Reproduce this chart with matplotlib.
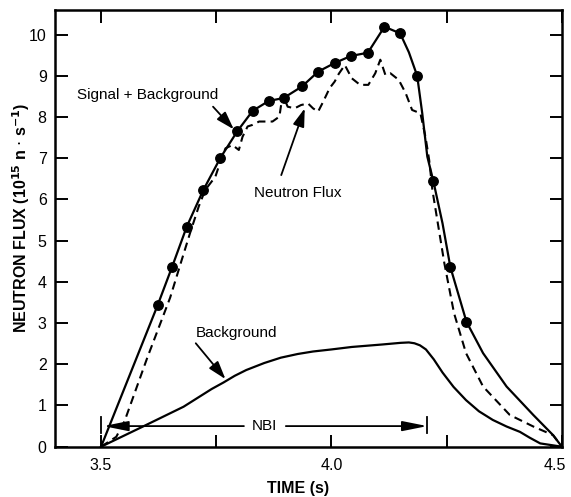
import matplotlib
matplotlib.use("Agg")
import matplotlib.pyplot as plt
import matplotlib.transforms as mtransforms
from matplotlib.ticker import FixedLocator

plt.rcParams['font.family'] = ['Liberation Sans', 'DejaVu Sans']

# Signal + Background: measured points (dots)
sb_dot_t = [3.623, 3.654, 3.686, 3.722, 3.759, 3.796, 3.829, 3.864, 3.896, 3.936,
            3.971, 4.007, 4.042, 4.079, 4.115, 4.149, 4.186, 4.221, 4.258, 4.293]
sb_dot_v = [3.44, 4.36, 5.34, 6.23, 7.01, 7.66, 8.15, 8.39, 8.46, 8.74,
            9.10, 9.31, 9.48, 9.56, 10.19, 10.03, 9.00, 6.45, 4.36, 3.03]

# Signal + Background: full solid curve
sb_line_t = [3.500] + sb_dot_t[:16] + [4.168, 4.186, 4.197, 4.208, 4.221, 4.241, 4.258,
                                        4.293, 4.329, 4.380, 4.438, 4.481, 4.500]
sb_line_v = [0.00] + sb_dot_v[:16] + [9.57, 9.00, 8.09, 7.04, 6.45, 5.42, 4.36,
                                       3.03, 2.27, 1.46, 0.77, 0.28, 0.00]

# Neutron flux (dashed)
nf_t = [3.500, 3.533, 3.551, 3.600, 3.650, 3.675, 3.693, 3.712, 3.726,
        3.748, 3.760, 3.770, 3.785, 3.799, 3.807, 3.818, 3.829, 3.843, 3.858,
        3.872, 3.887, 3.894, 3.905, 3.920, 3.934, 3.949, 3.960, 3.971, 3.982,
        3.996, 4.007, 4.016, 4.029, 4.044, 4.062, 4.080, 4.095, 4.106, 4.117,
        4.128, 4.146, 4.161, 4.175, 4.193, 4.204, 4.212, 4.219, 4.245, 4.266,
        4.292, 4.329, 4.387, 4.438, 4.481, 4.500]
nf_v = [0.00, 0.24, 0.62, 2.15, 3.62, 4.53, 5.18, 5.83, 6.23,
        6.55, 6.95, 7.24, 7.32, 7.20, 7.52, 7.77, 7.81, 7.89, 7.89,
        7.89, 8.01, 8.54, 8.25, 8.21, 8.29, 8.33, 8.21, 8.13, 8.37,
        8.70, 8.86, 9.05, 9.26, 8.94, 8.78, 8.78, 9.06, 9.39, 9.02,
        9.06, 8.90, 8.58, 8.17, 8.09, 7.52, 6.96, 6.23, 4.45, 3.24,
        2.27, 1.46, 0.77, 0.49, 0.28, 0.00]

# Background
bg_t = [3.500, 3.591, 3.679, 3.740, 3.766, 3.790, 3.815, 3.854, 3.890, 3.927,
        3.960, 4.000, 4.044, 4.110, 4.150, 4.168, 4.180, 4.192, 4.205, 4.222,
        4.241, 4.265, 4.292, 4.320, 4.350, 4.380, 4.409, 4.430, 4.453, 4.500]
bg_v = [0.00, 0.49, 0.97, 1.40, 1.56, 1.72, 1.86, 2.03, 2.16, 2.25,
        2.31, 2.36, 2.42, 2.48, 2.52, 2.53, 2.51, 2.46, 2.36, 2.12,
        1.80, 1.45, 1.13, 0.86, 0.65, 0.49, 0.36, 0.22, 0.08, 0.00]

# NBI interval
nbi_start, nbi_end, nbi_level = 3.50, 4.208, 0.5

x_major = [3.5, 4.0, 4.5]
x_labels = ['3.5', '4.0', '4.5']
x_minor = [3.75, 4.25]
y_ticks = list(range(0, 11))

fig = plt.figure(figsize=(5.71, 4.97), dpi=100)
ax = fig.add_axes([0.0963, 0.1012, 0.8877, 0.879])

ax.plot(sb_line_t, sb_line_v, color='black', lw=1.6)
ax.plot(sb_dot_t, sb_dot_v, 'o', color='black', ms=6.8)
ax.plot(nf_t, nf_v, color='black', lw=1.5, ls=(0, (4, 2.5)))
ax.plot(bg_t, bg_v, color='black', lw=1.6)

ax.set_xlim(3.4, 4.5)
ax.set_ylim(0, 10.6)

ax.xaxis.set_major_locator(FixedLocator(x_major))
ax.xaxis.set_minor_locator(FixedLocator(x_minor))
ax.set_xticklabels(x_labels)
ax.set_yticks(y_ticks)
ax.tick_params(axis='both', which='both', direction='in', top=True, right=True,
               length=9, width=1.4, labelsize=11.5, pad=6)
ax.tick_params(axis='x', which='major', pad=8)
for s in ax.spines.values():
    s.set_linewidth(1.8)

# keep the last x tick label inside the figure
last = ax.get_xticklabels()[-1]
last.set_transform(last.get_transform() +
                   mtransforms.ScaledTranslation(-5 / 72, 0, fig.dpi_scale_trans))

# NBI arrows
gap_l, gap_r = 3.81, 3.901
ax.text(3.855, nbi_level, 'NBI', ha='center', va='center', fontsize=11)
aprops = dict(arrowstyle='-|>,head_length=1.5,head_width=0.3', color='black', lw=1.3,
              shrinkA=0, shrinkB=0)
ax.annotate('', xy=(nbi_start + 0.005, nbi_level), xytext=(gap_l, nbi_level), arrowprops=aprops)
ax.annotate('', xy=(nbi_end, nbi_level), xytext=(gap_r, nbi_level), arrowprops=aprops)
ax.plot([nbi_start, nbi_start], [nbi_level - 0.17, nbi_level + 0.22], color='black', lw=1.3)
ax.plot([nbi_end, nbi_end], [nbi_level - 0.17, nbi_level + 0.22], color='black', lw=1.3)

lprops = dict(arrowstyle='-|>,head_length=1.1,head_width=0.35', color='black', lw=1.3,
              shrinkA=0, shrinkB=0)
ax.text(3.601, 8.54, 'Signal + Background', ha='center', va='center', fontsize=11)
ax.annotate('', xy=(3.788, 7.70), xytext=(3.743, 8.25), arrowprops=lprops)
ax.text(3.926, 6.15, 'Neutron Flux', ha='center', va='center', fontsize=11)
ax.annotate('', xy=(3.942, 8.21), xytext=(3.891, 6.59), arrowprops=lprops)
ax.text(3.794, 2.75, 'Background', ha='center', va='center', fontsize=11)
ax.annotate('', xy=(3.770, 1.64), xytext=(3.7055, 2.51), arrowprops=lprops)

fig.text(21 / 571, 1 - 218 / 497, r'NEUTRON FLUX (10$^{\mathbf{15}}$ n $\cdot$ s$^{\mathbf{-1}}$)',
         rotation=90, ha='center', va='center', fontsize=11.5, fontweight='bold')
fig.text(298 / 571, 1 - 488 / 497, 'TIME (s)', ha='center', va='center', fontsize=11.5,
         fontweight='bold')

fig.savefig('out.png', dpi=100)
